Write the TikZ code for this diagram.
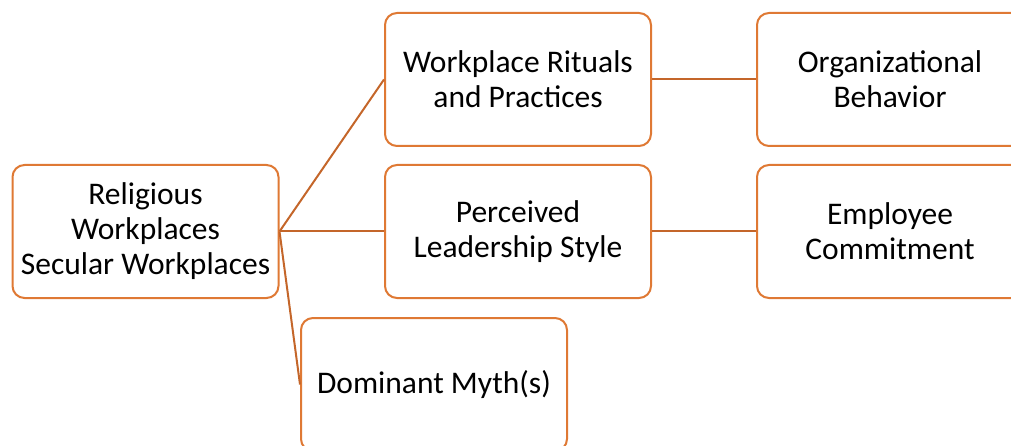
\documentclass[tikz,border=0pt]{standalone}
\usepackage{fontspec}
\setmainfont{Carlito}
\usetikzlibrary{positioning}

\definecolor{boxedge}{RGB}{223,121,52}
\definecolor{linkedge}{RGB}{196,102,42}

\begin{document}
\begin{tikzpicture}[
            x = 1pt, y = -1pt,
            node distance = 104pt, % gap between columns
            semithick
        ]

        \tikzstyle{card}=[
            draw = boxedge,
            line width = 2pt,
            rounded corners = 12pt,
            fill = white,
            minimum width = 266pt,
            minimum height = 133pt,
            align = center,
            font = \fontsize{31.5}{35}\selectfont
        ]
        \tikzstyle{link}=[draw = linkedge, line width = 2pt]

        \useasboundingbox (0,0) rectangle (1011,446);

	% WORKPLACE TYPE
        \node[card] (W0) at (145.5,231.5) {Religious\\Workplaces\\Secular Workplaces};

	% MIDDLE COLUMN
        \node[card] (R1) at (518,79.5) {Workplace Rituals\\and Practices};
        \node[card] (L1) at (518,231.5) {Perceived\\Leadership Style};
        \node[card] (M1) at (434,384.5) {Dominant Myth(s)};

	% OUTCOMES
        \node[card] (O2) [right=of R1] {Organizational\\Behavior};
        \node[card] (C2) [right=of L1] {Employee\\Commitment};

        \path[link] (W0.east) edge (R1.west);
        \path[link] (W0.east) edge (L1.west);
        \path[link] (W0.east) edge (M1.west);
        \path[link] (R1.east) edge (O2.west);
        \path[link] (L1.east) edge (C2.west);

  \end{tikzpicture}
\end{document}
